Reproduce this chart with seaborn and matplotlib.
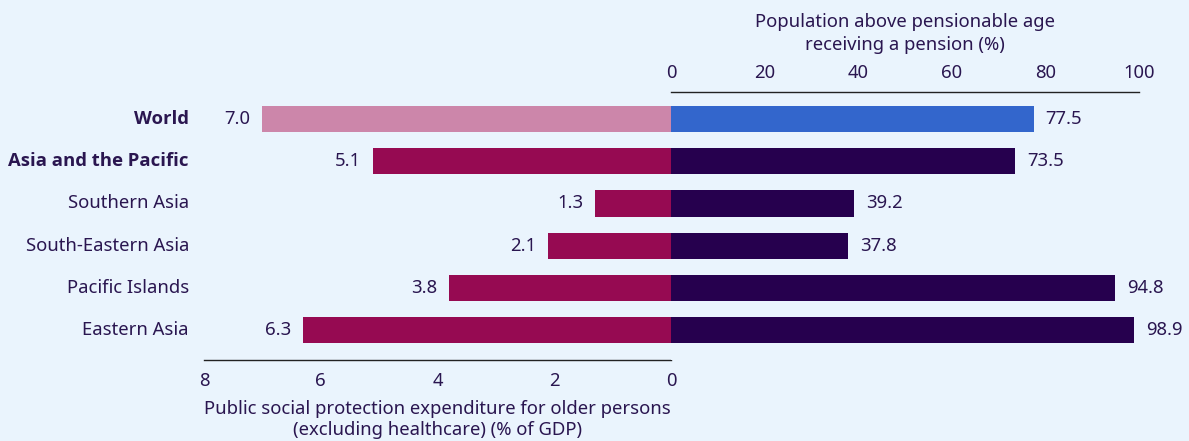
import matplotlib
matplotlib.use("Agg")
import matplotlib.pyplot as plt
import seaborn as sns
import pandas as pd

# Data
regions = ["World", "Asia and the Pacific", "Southern Asia",
           "South-Eastern Asia", "Pacific Islands", "Eastern Asia"]
expenditure = [7.0, 5.1, 1.3, 2.1, 3.8, 6.3]      # % of GDP
coverage = [77.5, 73.5, 39.2, 37.8, 94.8, 98.9]   # % receiving a pension
bold_regions = ["World", "Asia and the Pacific"]

exp_ticks = [8, 6, 4, 2, 0]
cov_ticks = [0, 20, 40, 60, 80, 100]

BG = "#eaf4fd"
TXT = "#2a1650"
FS = 13.3
left_colors = ["#cc86aa"] + ["#960a52"] * 5
right_colors = ["#3366cc"] + ["#26004e"] * 5

sns.set_theme(style="white")
plt.rcParams["font.family"] = ["Noto Sans", "Open Sans", "DejaVu Sans"]
plt.rcParams["text.color"] = TXT

df = pd.DataFrame({"region": regions, "exp": expenditure, "cov": coverage})

fig = plt.figure(figsize=(11.89, 4.41), dpi=100, facecolor=BG)
ax_l = fig.add_axes([204 / 1189, 1 - 360 / 441, 467 / 1189, 268 / 441])
ax_r = fig.add_axes([671 / 1189, 1 - 360 / 441, 468 / 1189, 268 / 441])

bar_h = 0.62
sns.barplot(data=df, y="region", x="exp", hue="region", palette=left_colors,
            orient="h", width=bar_h, legend=False, ax=ax_l, saturation=1,
            linewidth=0)
sns.barplot(data=df, y="region", x="cov", hue="region", palette=right_colors,
            orient="h", width=bar_h, legend=False, ax=ax_r, saturation=1,
            linewidth=0)

for ax in (ax_l, ax_r):
    ax.set_facecolor(BG)
    ax.set_ylim(5.71, -0.64)
    ax.set_xlabel("")
    ax.set_ylabel("")
    ax.set_yticks([])
    for s in ax.spines.values():
        s.set_visible(False)
    ax.tick_params(length=0, labelsize=FS, colors=TXT)

# left panel: expenditure, growing to the left, axis at the bottom
ax_l.set_xlim(8, 0)
ax_l.set_xticks(exp_ticks)
ax_l.spines["bottom"].set_visible(True)
ax_l.spines["bottom"].set_color("#222222")
ax_l.spines["bottom"].set_linewidth(1)
ax_l.tick_params(axis="x", pad=9)
ax_l.set_xlabel("Public social protection expenditure for older persons\n(excluding healthcare) (% of GDP)",
                fontsize=FS, color=TXT, labelpad=7, linespacing=1.2)

# region names as row labels (Noto Sans has no bold face here, Open Sans does)
for i, name in enumerate(regions):
    is_bold = name in bold_regions
    ax_l.annotate(name, xy=(0, i), xycoords=("axes fraction", "data"),
                  xytext=(-15, 0), textcoords="offset pixels",
                  ha="right", va="center", fontsize=FS, color=TXT,
                  fontweight="bold" if is_bold else "normal",
                  family=["Open Sans", "Liberation Sans"] if is_bold else None)

for i, v in enumerate(expenditure):
    ax_l.annotate(f"{v:.1f}", xy=(v, i), xytext=(-12, 0), textcoords="offset pixels",
                  ha="right", va="center", fontsize=FS, color=TXT)

# right panel: coverage, axis at the top
ax_r.set_xlim(0, 100)
ax_r.set_xticks(cov_ticks)
ax_r.xaxis.tick_top()
ax_r.xaxis.set_label_position("top")
ax_r.spines["top"].set_visible(True)
ax_r.spines["top"].set_color("#222222")
ax_r.spines["top"].set_linewidth(1)
ax_r.tick_params(axis="x", pad=7)
ax_r.set_xlabel("Population above pensionable age\nreceiving a pension (%)",
                fontsize=FS, color=TXT, labelpad=10, linespacing=1.35)
for i, v in enumerate(coverage):
    ax_r.annotate(f"{v:.1f}", xy=(v, i), xytext=(12, 0), textcoords="offset pixels",
                  ha="left", va="center", fontsize=FS, color=TXT)

fig.savefig("out.png", dpi=100, facecolor=BG)
